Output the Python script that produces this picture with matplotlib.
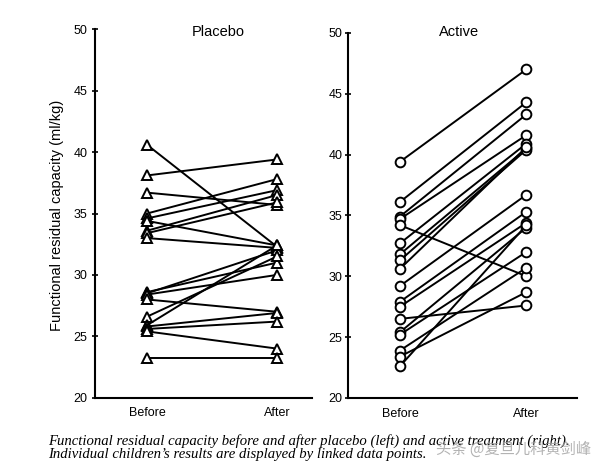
import matplotlib
matplotlib.use("Agg")
import matplotlib.pyplot as plt
import matplotlib.transforms as mtransforms

# placebo group, one entry per child (before -> after)
placebo_before = [40.6, 38.1, 36.7, 35.0, 34.6, 34.4, 33.6, 33.4, 33.0,
                  28.6, 28.5, 28.4, 28.0, 26.6, 25.9, 25.8, 25.6, 25.4, 23.2]
placebo_after = [32.3, 39.4, 35.7, 37.8, 36.9, 32.4, 36.5, 35.9, 32.2,
                 31.0, 32.0, 30.0, 27.0, 31.5, 32.4, 26.9, 26.2, 24.0, 23.2]

# active group
active_before = [39.4, 36.1, 34.9, 34.7, 34.2, 32.7, 31.8, 31.3, 30.6,
                 29.2, 27.9, 27.5, 26.5, 25.4, 25.2, 23.9, 23.4, 22.6]
active_after = [47.0, 44.3, 43.3, 41.6, 30.0, 40.9, 40.5, 40.4, 40.6,
                36.7, 35.3, 34.4, 27.6, 34.0, 32.0, 30.7, 28.7, 34.2]

groups = ["Placebo", "Active"]
xlabels = ["Before", "After"]
yticks = [20, 25, 30, 35, 40, 45, 50]

caption1 = "Functional residual capacity before and after placebo (left) and active treatment (right)."
caption2 = "Individual children\u2019s results are displayed by linked data points."
watermark = "\u5934\u6761 @\u590d\u65e6\u513f\u79d1\u9ec4\u5251\u5cf0"

plt.rcParams["font.family"] = ["Liberation Sans", "DejaVu Sans"]

fig = plt.figure(figsize=(5.99, 4.69), dpi=100)

ax1 = fig.add_axes([0.1586, 0.152, 0.3623, 0.7855])
ax2 = fig.add_axes([0.581, 0.1514, 0.3823, 0.7787])

panels = [
    (ax1, groups[0], placebo_before, placebo_after, "^", (-0.40, 1.27), 0.55, 0.993, 3.0),
    (ax2, groups[1], active_before, active_after, "o", (-0.41, 1.40), 0.466, 1.002, 1.5),
]

for ax, title, before, after, marker, xlim, tx, ty, pad in panels:
    for b, a in zip(before, after):
        ax.plot([0, 1], [b, a], color="black", lw=1.4, marker=marker,
                markersize=7, markerfacecolor="white",
                markeredgecolor="black", markeredgewidth=1.4,
                solid_capstyle="butt", clip_on=False)
    ax.set_xlim(*xlim)
    ax.set_ylim(20, 50)
    ax.set_xticks([0, 1])
    ax.set_xticklabels(xlabels)
    ax.set_yticks(yticks)
    for side in ["top", "right"]:
        ax.spines[side].set_visible(False)
    for side in ["left", "bottom"]:
        ax.spines[side].set_linewidth(1.5)
    ax.tick_params(axis="x", length=0, pad=7, labelsize=9)
    ax.tick_params(axis="y", direction="inout", length=5, width=1.2,
                   pad=pad, labelsize=9)
    trans = mtransforms.blended_transform_factory(ax.transData, ax.transAxes)
    ax.text(tx, ty, title, transform=trans, ha="center", va="center",
            fontsize=10.5)

fig.text(57 / 599, 1 - 215 / 469, "Functional residual capacity (ml/kg)",
         rotation=90, ha="center", va="center", fontsize=10.5)

fig.text(48 / 599, 1 - 445 / 469, caption1, ha="left", va="baseline",
         fontsize=10.6, style="italic", family="Liberation Serif")
fig.text(48 / 599, 1 - 458 / 469, caption2, ha="left", va="baseline",
         fontsize=10.6, style="italic", family="Liberation Serif")

# watermark from the source image
fig.text(436 / 599, 1 - 449 / 469, watermark,
         ha="left", va="center", fontsize=11, color="#a0a0a0", alpha=0.8,
         family=["Noto Sans CJK SC", "DejaVu Sans"])

fig.savefig("out.png", dpi=100)
